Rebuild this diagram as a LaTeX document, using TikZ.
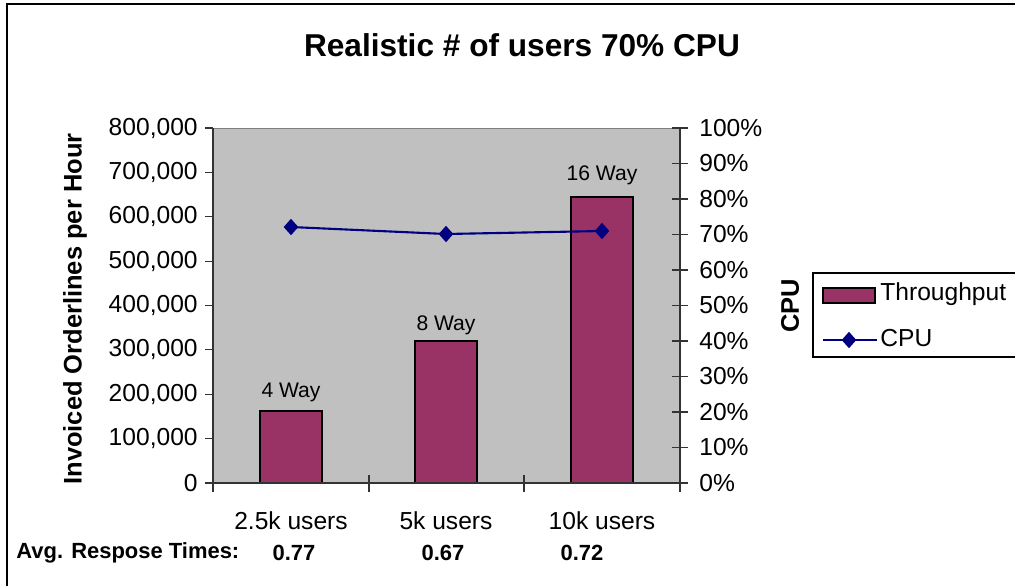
\documentclass[tikz,border=0pt]{standalone}
\usepackage{fontspec}
\setmainfont{Liberation Sans}
\usetikzlibrary{shapes.geometric}
\definecolor{plotgray}{HTML}{C0C0C0}
\definecolor{barplum}{HTML}{993366}
\definecolor{cpunavy}{HTML}{000080}

\begin{document}
\begin{tikzpicture}[x=0.02cm, y=-0.02cm,
  ticklbl/.style={font=\fontsize{14}{16}\selectfont, inner sep=0pt},
  waylbl/.style={font=\fontsize{12}{14}\selectfont, inner sep=0pt},
  axistitle/.style={font=\bfseries\fontsize{14.5}{16}\selectfont, inner sep=0pt, rotate=90},
  rtlbl/.style={font=\bfseries\fontsize{12.5}{14}\selectfont, inner sep=0pt},
  plumbar/.style={draw=black, line width=0.9pt, fill=barplum},
  cpumark/.style={diamond, fill=cpunavy, inner sep=0pt, minimum width=8.5pt, minimum height=9.5pt},
  axisline/.style={draw=black!80, line width=0.6pt}]
\clip (0,0) rectangle (1015,586);
\fill[white] (0,0) rectangle (1015,586);

% Chart frame (cut at the right and bottom)
\draw[line width=1.2pt] (7,586) -- (7,4) -- (1015,4);

% Title
\node[font=\bfseries\fontsize{18}{20}\selectfont, inner sep=0pt] (title) at (522,45) {Realistic \# of users 70\% CPU};

% Plot area
\filldraw[fill=plotgray, draw=black!50, line width=0.5pt] (213,128) rectangle (680,483);

% Throughput bars
\filldraw[plumbar] (260,483) rectangle (322,411);
\filldraw[plumbar] (415,483) rectangle (477,341);
\filldraw[plumbar] (571,483) rectangle (633,197);
\node[waylbl] (way4) at (291,392) {4 Way};
\node[waylbl] (way8) at (446,325) {8 Way};
\node[waylbl] (way16) at (602,175) {16 Way};

% Axes
\draw[axisline] (213,128) -- (213,492);
\draw[axisline] (680,128) -- (680,492);
\draw[axisline] (213,483) -- (680,483);
\foreach \x in {369,524} \draw[axisline] (\x,475) -- (\x,492);

% Left axis ticks and labels
\foreach \k/\lbl in {0/0,1/{100,000},2/{200,000},3/{300,000},4/{400,000},5/{500,000},6/{600,000},7/{700,000},8/{800,000}}{
  \draw[axisline] (205,{483-44.375*\k}) -- (213,{483-44.375*\k});
  \node[ticklbl, anchor=east] (yl\k) at (198,{483-44.375*\k}) {\lbl};
}

% Right axis ticks and labels
\foreach \k in {0,...,10}{
  \draw[axisline] (672,{483-35.5*\k}) -- (688,{483-35.5*\k});
  \node[ticklbl, anchor=west] (yr\k) at (699,{483-35.5*\k}) {\the\numexpr\k*10\relax\%};
}

% Axis titles
\node[axistitle] (ltitle) at (75,309) {Invoiced Orderlines per Hour};
\node[axistitle] (rtitle) at (790,306) {CPU};

% CPU line
\coordinate (cpu1) at (291,227);
\coordinate (cpu2) at (446,234);
\coordinate (cpu3) at (602,231);
\draw[cpunavy, line width=1.2pt] (cpu1) -- (cpu2) -- (cpu3);
\foreach \c in {cpu1,cpu2,cpu3} \node[cpumark] (m\c) at (\c) {};

% Category labels and response times
\node[ticklbl] (cat1) at (291,521) {2.5k users};
\node[ticklbl] (cat2) at (446,521) {5k users};
\node[ticklbl] (cat3) at (602,521) {10k users};
\node[rtlbl, anchor=west] (rthead) at (16,553) {Avg. Respose Times:};
\node[rtlbl] (rt1) at (294,553) {0.77};
\node[rtlbl] (rt2) at (443,553) {0.67};
\node[rtlbl] (rt3) at (582,553) {0.72};

% Legend
\draw[line width=0.6pt] (813,273) rectangle (1030,357);
\filldraw[plumbar] (823,288) rectangle (875,303);
\node[ticklbl, anchor=west] (legtp) at (880,294) {Throughput};
\coordinate (lega) at (823,340);
\coordinate (legb) at (877,340);
\draw[cpunavy, line width=1.2pt] (lega) -- (legb);
\node[cpumark] (legm) at (849,340) {};
\node[ticklbl, anchor=west] (legcpu) at (880,338) {CPU};

\end{tikzpicture}
\end{document}
